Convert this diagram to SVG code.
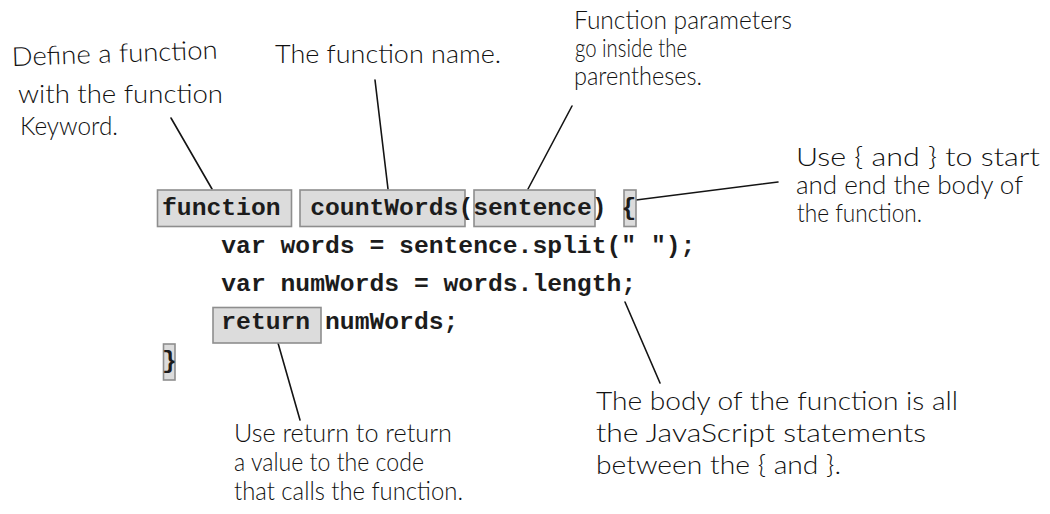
<svg xmlns="http://www.w3.org/2000/svg" width="1050" height="514" viewBox="0 0 1050 514">
  <style>
    .code { font-family: "Liberation Mono", "Courier New", monospace; font-weight: bold; font-size: 24.7px; fill: #1c1c1c; }
    .box { fill: #dcdcdc; stroke: #8e8e8e; stroke-width: 1.6; }
    .note { font-family: Lato, "Open Sans", sans-serif; font-weight: 300; font-size: 26px; fill: #111111; }
    .small { font-size: 24.5px; }
    .lead { stroke: #141414; stroke-width: 1.6; fill: none; stroke-linecap: round; }
  </style>
  <rect width="1050" height="514" fill="#ffffff"/>

  <!-- annotation leaders -->
  <g id="connectors">
    <line class="lead" x1="171" y1="118" x2="212" y2="189"/>
    <line class="lead" x1="375" y1="80" x2="388" y2="189"/>
    <line class="lead" x1="572" y1="106" x2="528" y2="189"/>
    <line class="lead" x1="778" y1="182" x2="636" y2="200"/>
    <line class="lead" x1="278" y1="343" x2="300" y2="420"/>
    <line class="lead" x1="625" y1="302" x2="660" y2="383"/>
  </g>

  <!-- highlighted code tokens -->
  <g id="kw-function">
    <rect class="box" x="157.5" y="190" width="134" height="36.5"/>
    <text class="code" x="162" y="214.5">function</text>
  </g>
  <g id="fn-name">
    <rect class="box" x="300" y="190" width="165" height="36.5"/>
    <text class="code" x="310.2" y="214.5">countWords</text>
  </g>
  <g id="param">
    <rect class="box" x="474" y="190" width="121" height="36.5"/>
    <text class="code" x="473.2" y="214.5">sentence</text>
  </g>
  <g id="brace-open">
    <rect class="box" x="624" y="190" width="12" height="36.5"/>
    <text class="code" x="621.4" y="214.5">{</text>
  </g>
  <g id="kw-return">
    <rect class="box" x="213" y="307.5" width="108" height="35.5"/>
    <text class="code" x="221.3" y="329.3">return</text>
  </g>
  <g id="brace-close">
    <rect class="box" x="163.5" y="344" width="11.5" height="36"/>
    <text class="code" x="162" y="367.5">}</text>
  </g>

  <!-- plain code -->
  <g id="code">
    <text class="code" x="458.4" y="214.5">(</text>
    <text class="code" x="591.8" y="214.5">)</text>
    <text class="code" x="221.3" y="252.8" xml:space="preserve">var words = sentence.split(" ");</text>
    <text class="code" x="221.3" y="291">var numWords = words.length;</text>
    <text class="code" x="325" y="329.3">numWords;</text>
  </g>

  <!-- notes -->
  <g id="note-keyword">
    <text class="note" x="12" y="66" textLength="206" lengthAdjust="spacingAndGlyphs" transform="rotate(-2 12 66)">Define a function</text>
    <text class="note" x="18" y="103" textLength="205" lengthAdjust="spacingAndGlyphs">with the function</text>
    <text class="note" x="20" y="135" textLength="98" lengthAdjust="spacingAndGlyphs">Keyword.</text>
  </g>
  <g id="note-name">
    <text class="note" x="275" y="63" textLength="226" lengthAdjust="spacingAndGlyphs">The function name.</text>
  </g>
  <g id="note-params">
    <text class="note small" x="574" y="29" textLength="218" lengthAdjust="spacingAndGlyphs">Function parameters</text>
    <text class="note small" x="575" y="57" textLength="112" lengthAdjust="spacingAndGlyphs">go inside the</text>
    <text class="note small" x="574" y="85" textLength="128" lengthAdjust="spacingAndGlyphs">parentheses.</text>
  </g>
  <g id="note-braces">
    <text class="note small" x="796" y="166" textLength="244" lengthAdjust="spacingAndGlyphs">Use { and } to start</text>
    <text class="note small" x="796" y="194" textLength="227" lengthAdjust="spacingAndGlyphs">and end the body of</text>
    <text class="note small" x="797" y="222" textLength="125" lengthAdjust="spacingAndGlyphs">the function.</text>
  </g>
  <g id="note-return">
    <text class="note" x="234" y="442" textLength="218" lengthAdjust="spacingAndGlyphs">Use return to return</text>
    <text class="note" x="234" y="471" textLength="190" lengthAdjust="spacingAndGlyphs">a value to the code</text>
    <text class="note" x="234" y="500" textLength="229" lengthAdjust="spacingAndGlyphs">that calls the function.</text>
  </g>
  <g id="note-body">
    <text class="note" x="596" y="410" textLength="362" lengthAdjust="spacingAndGlyphs">The body of the function is all</text>
    <text class="note" x="596" y="442" textLength="330" lengthAdjust="spacingAndGlyphs">the JavaScript statements</text>
    <text class="note" x="596" y="474" textLength="245" lengthAdjust="spacingAndGlyphs">between the { and }.</text>
  </g>
</svg>
